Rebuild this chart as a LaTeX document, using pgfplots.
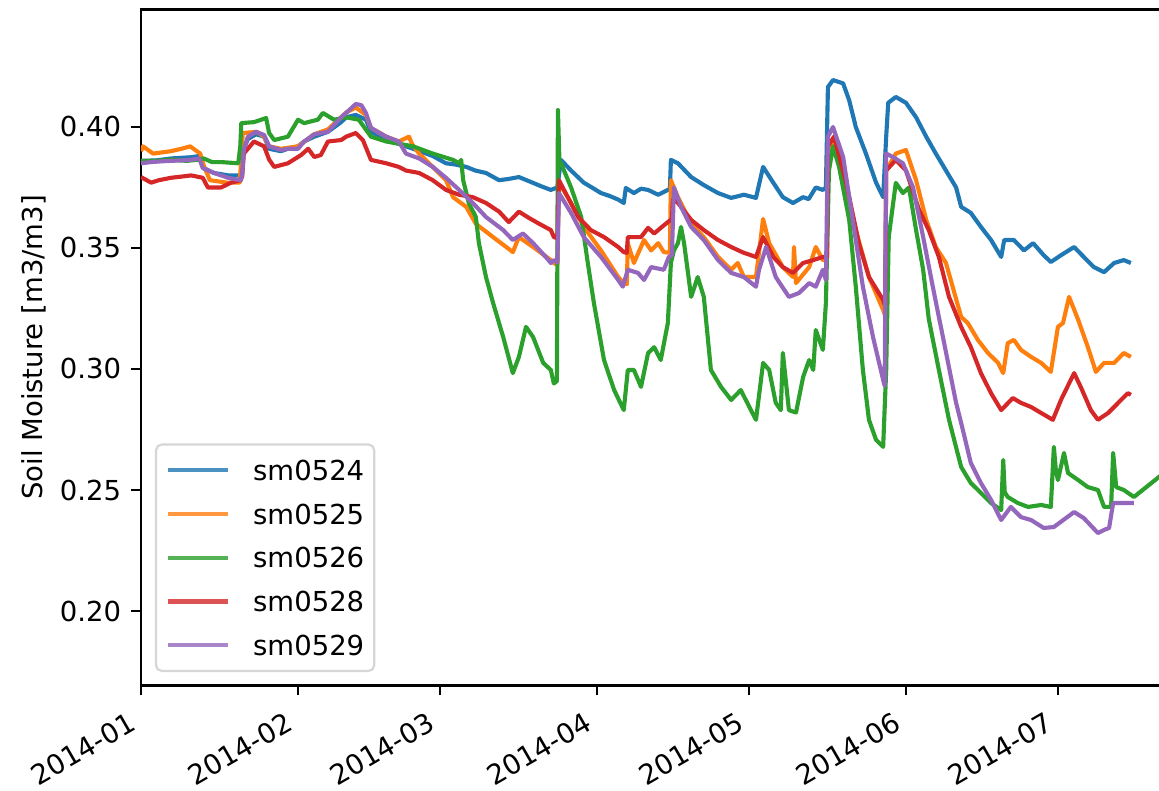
\documentclass[border=0pt]{standalone}
\usepackage{fontspec}
\setmainfont{DejaVu Sans}
\usepackage{pgfplots}
\pgfplotsset{compat=1.18}
\definecolor{c0}{HTML}{1F77B4}
\definecolor{c1}{HTML}{FF7F0E}
\definecolor{c2}{HTML}{2CA02C}
\definecolor{c3}{HTML}{D62728}
\definecolor{c4}{HTML}{9467BD}
\definecolor{lgframe}{HTML}{CCCCCC}
\begin{document}
\begin{tikzpicture}
\begin{axis}[
  at={(0,0)}, anchor=south west,
  scale only axis, width=380pt, height=245.82pt,
  xmin=0, xmax=206.28, ymin=0.16921, ymax=0.44855,
  axis line style={line width=0.8pt},
  tick align=outside, tick pos=left,
  major tick length=3.5pt,
  every tick/.style={black, line width=0.8pt},
  xtick={0,31,59,90,120,151,181},
  xticklabels={2014-01,2014-02,2014-03,2014-04,2014-05,2014-06,2014-07},
  xticklabel shift=11.6pt,
  xticklabel style={anchor=base east, rotate=30, inner sep=0pt, xshift=-1.2pt},
  ytick={0.20,0.25,0.30,0.35,0.40},
  yticklabel shift=3.5pt,
  yticklabel style={inner sep=0pt},
  /pgf/number format/fixed, /pgf/number format/fixed zerofill,
  /pgf/number format/precision=2, /pgf/number format/assume math mode=true,
  ylabel={Soil Moisture [m3/m3]},
  ylabel shift=1.5pt,
  legend cell align=left,
  legend image code/.code={\draw[#1] (0pt,0pt) -- (21.8pt,0pt);},
  legend style={at={(0.01339,0.01997)}, anchor=south west, draw=lgframe,
    fill=white, fill opacity=0.8, draw opacity=0.8, text opacity=1,
    rounded corners=2pt, inner xsep=3.6pt, inner ysep=5.7pt,
    row sep=8.6pt, column sep=8.4pt, line width=0.8pt,
    nodes={inner sep=0pt, text height=7.3pt, text depth=0pt}},
  every axis plot/.append style={line width=1.5pt, line join=round},
]
% sm0524
\addplot[c0] coordinates {
(0,0.386) (3,0.3862) (6,0.387) (9.9,0.3875) (11.5,0.388) (12.4,0.383) (14.4,0.381) (17.2,0.380) (19.7,0.380)
(20.1,0.390) (21.1,0.395) (22.7,0.397) (24.3,0.396) (25.3,0.391) (27.6,0.390) (29,0.391) (31,0.392) (32.2,0.394)
(34.2,0.396) (36.9,0.398) (39.5,0.402) (40.5,0.404) (42.4,0.405) (44.4,0.403) (45.4,0.398) (48.4,0.395)
(50.9,0.393) (53.7,0.391) (57.6,0.388) (60.2,0.385) (62,0.3845) (64.2,0.3835) (66,0.382) (68.1,0.381) (70.7,0.378)
(72.5,0.3785) (74.6,0.3793) (77.4,0.3769) (79,0.3755) (80.9,0.374) (82.2,0.375) (82.9,0.3864) (84.9,0.382) (87.4,0.377)
(89,0.375) (90.8,0.3727) (92.5,0.3715) (94.2,0.370) (95.3,0.3686) (95.7,0.3748) (97.3,0.3727) (98.7,0.3745) (100.1,0.374)
(102.1,0.372) (104.0,0.374) (104.4,0.374) (104.6,0.3864) (106.0,0.385) (108.6,0.3793) (111.1,0.376)
(113.9,0.3727) (116.5,0.3707) (119.0,0.372) (121.4,0.3707) (122.8,0.3835) (124.8,0.377) (126.7,0.371)
(128.7,0.3686) (130.7,0.371) (131.8,0.3702) (133.2,0.375) (134.6,0.374) (135.2,0.375) (135.6,0.4165) (136.6,0.4194)
(138.6,0.418) (139.8,0.411) (141.1,0.400) (143.1,0.389) (145.1,0.377) (146.5,0.371) (147.1,0.396)
(147.5,0.410) (149.0,0.4124) (151.0,0.410) (153.0,0.404) (155.0,0.396) (156.9,0.389) (158.9,0.382)
(160.9,0.375) (161.9,0.367) (163.8,0.3645) (165.8,0.3587) (167.8,0.3533) (169.8,0.3463) (170.4,0.3533)
(172.3,0.3533) (174.3,0.349) (176.1,0.352) (178.2,0.347) (179.6,0.3442) (181.6,0.347) (184.2,0.3504)
(186.1,0.3463) (188.1,0.3421) (190.1,0.340) (192.1,0.3438) (194.0,0.345) (195.4,0.3438)
};
\addlegendentry{sm0524}
% sm0525
\addplot[c1] coordinates {
(0,0.390) (0.4,0.392) (2.4,0.389) (5.9,0.390) (8,0.391) (9.7,0.392) (11.7,0.389) (12.4,0.384) (13.6,0.378)
(17.0,0.377) (19.5,0.377) (20.1,0.3975) (22.9,0.398) (24.3,0.396) (25.3,0.392) (27.6,0.391) (31,0.392)
(34.2,0.397) (36.9,0.399) (39.5,0.404) (40.5,0.406) (42.4,0.408) (44.4,0.405) (45.4,0.3996) (48.4,0.396)
(50.9,0.394) (52.9,0.396) (53.5,0.393) (54.9,0.389) (57.6,0.3835) (60.2,0.378) (61.6,0.371) (64.2,0.367)
(66.1,0.360) (69.5,0.3545) (72.1,0.3504) (73.4,0.3483) (74.6,0.3545) (77.4,0.3504) (80.9,0.345)
(81.5,0.3438) (82.2,0.343) (82.5,0.377) (84.9,0.3686) (87.4,0.3587) (90.8,0.349) (94.2,0.338)
(95.3,0.3355) (95.9,0.335) (96.1,0.352) (97.3,0.3438) (99.3,0.3533) (100.7,0.349) (102.1,0.352)
(103.2,0.3483) (104.4,0.348) (104.6,0.378) (106.0,0.371) (108.6,0.360) (111.1,0.3545) (113.9,0.3463)
(116.5,0.341) (117.8,0.3438) (119.0,0.338) (121.4,0.338) (122.8,0.362) (124.0,0.352) (126.7,0.3421)
(128.7,0.338) (128.9,0.3504) (129.3,0.3355) (131.9,0.3421) (133.2,0.3504) (134.6,0.345) (135.4,0.345)
(135.6,0.389) (136.8,0.3934) (138.6,0.382) (141.1,0.3574) (143.7,0.338) (146.5,0.3244) (146.9,0.322)
(147.1,0.382) (149.0,0.389) (151.0,0.3905) (153.0,0.378) (155.0,0.3616) (156.9,0.3504) (158.9,0.3438)
(161.9,0.3215) (163.2,0.319) (165.2,0.312) (167.2,0.3066) (169.2,0.3025) (170.2,0.2983) (171.1,0.3107)
(172.3,0.312) (173.7,0.3079) (175.7,0.305) (177.7,0.3025) (179.6,0.2988) (181.0,0.3174) (182.0,0.319)
(183.2,0.3298) (185.0,0.3203) (186.9,0.3091) (188.5,0.2988) (190.1,0.3025) (192.1,0.3025) (194.0,0.3066)
(195.4,0.305)
};
\addlegendentry{sm0525}
% sm0526
\addplot[c2] coordinates {
(0,0.386) (3,0.386) (6,0.3865) (9,0.386) (11.5,0.3865) (12.4,0.387) (14,0.3855) (15.8,0.3855) (19.2,0.385)
(19.6,0.392) (19.8,0.4016) (22.3,0.402) (24.7,0.4037) (25.3,0.3975) (26.3,0.3946) (29.0,0.396) (31.0,0.403)
(32.2,0.4016) (34.9,0.403) (35.9,0.4058) (38.1,0.403) (40.5,0.404) (43.0,0.403) (45.4,0.396) (48.4,0.394)
(53.7,0.392) (57.6,0.389) (61.6,0.3864) (62.8,0.385) (63.2,0.3864) (63.6,0.378) (64.7,0.3686) (66.1,0.3628)
(66.7,0.352) (68.1,0.338) (69.5,0.3273) (71.5,0.3132) (73.4,0.2983) (74.6,0.305) (76.0,0.3174)
(77.4,0.3132) (79.4,0.3025) (80.9,0.2996) (81.5,0.294) (82.1,0.295) (82.3,0.407) (82.6,0.386) (82.9,0.385)
(84.9,0.375) (86.9,0.3628) (88.2,0.3438) (89.4,0.3273) (91.4,0.3037) (93.4,0.2913) (95.3,0.283)
(96.1,0.2996) (97.3,0.2996) (98.7,0.2926) (100.1,0.3066) (101.3,0.309) (102.6,0.3037) (104.0,0.319)
(104.6,0.3438) (105.2,0.349) (106.0,0.352) (106.6,0.3587) (107.2,0.352) (108.6,0.3298) (109.9,0.338)
(111.1,0.3298) (112.5,0.2996) (114.5,0.2926) (116.5,0.2872) (118.4,0.2913) (120.4,0.283) (121.4,0.279)
(122.8,0.3025) (124.0,0.2996) (125.3,0.286) (126.3,0.283) (126.7,0.3066) (127.9,0.283) (129.3,0.282)
(130.7,0.2967) (131.9,0.3037) (132.7,0.2996) (133.2,0.3161) (134.6,0.3079) (135.2,0.3273) (135.8,0.382)
(136.6,0.392) (137.8,0.3835) (139.8,0.3616) (141.1,0.334) (142.5,0.2996) (143.7,0.279) (145.1,0.2707)
(146.5,0.2678) (147.1,0.2996) (147.6,0.3545) (149.0,0.3769) (150.4,0.3727) (151.6,0.375) (153.0,0.3574)
(154.4,0.341) (155.5,0.3207) (157.5,0.2996) (159.5,0.279) (161.9,0.2595) (163.8,0.2529) (165.8,0.2488)
(167.8,0.2446) (169.8,0.2417) (170.2,0.2624) (170.5,0.249) (171.1,0.2471) (173.1,0.2446) (175.1,0.243)
(177.7,0.2438) (179.6,0.243) (180.2,0.2678) (180.6,0.258) (181.0,0.2541) (182.2,0.2653) (183.0,0.257)
(185.0,0.2541) (186.9,0.2512) (188.9,0.25) (190.1,0.243) (191.5,0.243) (191.9,0.2653) (192.5,0.2512)
(194.0,0.25) (196.0,0.2471) (205.0,0.2622)
};
\addlegendentry{sm0526}
% sm0528
\addplot[c3] coordinates {
(0,0.3793) (2.0,0.377) (3.5,0.378) (5.9,0.379) (8,0.3795) (9.9,0.380) (12.2,0.379) (13.2,0.375) (15.8,0.375)
(17.8,0.377) (19.7,0.378) (20.0,0.380) (20.3,0.389) (22.3,0.394) (24.3,0.392) (25.3,0.3865) (26.3,0.3835)
(29.0,0.385) (31.6,0.3884) (33.0,0.391) (34.2,0.3876) (35.5,0.3884) (36.9,0.394) (39.5,0.3946) (40.5,0.396)
(42.4,0.3975) (43.8,0.3946) (45.4,0.3864) (48.4,0.385) (50.9,0.3835) (52.3,0.382) (54.9,0.381) (57.6,0.378)
(60.2,0.374) (62.8,0.372) (65.5,0.371) (68.1,0.3686) (70.7,0.365) (72.6,0.3607) (74.6,0.365) (76.6,0.3624)
(78.6,0.360) (80.9,0.3574) (81.5,0.3545) (82.2,0.354) (82.5,0.378) (83.5,0.374) (86.3,0.3628) (88.8,0.3574)
(91.4,0.3545) (94.2,0.3504) (95.3,0.3483) (95.9,0.348) (96.1,0.3545) (98.7,0.3545) (100.1,0.3583)
(101.3,0.356) (102.6,0.3583) (104.0,0.3607) (104.8,0.362) (105.0,0.370) (106.0,0.3686) (108.6,0.3616)
(111.1,0.3574) (113.9,0.3533) (116.5,0.3504) (119.0,0.348) (121.4,0.3463) (122.8,0.3545) (124.8,0.3463)
(126.7,0.3421) (128.7,0.3397) (130.7,0.3438) (132.7,0.345) (134.6,0.3463) (135.4,0.3463) (135.6,0.392)
(136.8,0.396) (139.2,0.377) (141.7,0.352) (143.7,0.338) (146.5,0.3285) (146.9,0.326) (147.1,0.382)
(149.0,0.3864) (151.0,0.382) (153.6,0.3657) (155.5,0.3574) (157.5,0.3463) (159.5,0.3298) (161.9,0.3174)
(163.8,0.3091) (165.8,0.2983) (167.8,0.290) (169.8,0.283) (172.1,0.288) (173.7,0.286) (175.7,0.2843)
(177.7,0.2818) (180.0,0.279) (181.6,0.2872) (184.2,0.2983) (185.5,0.2926) (187.5,0.283) (188.9,0.279)
(190.9,0.2818) (192.9,0.286) (194.8,0.290) (195.4,0.2893)
};
\addlegendentry{sm0528}
% sm0529
\addplot[c4] coordinates {
(0,0.385) (2.0,0.3855) (4.0,0.3858) (6,0.386) (8,0.3862) (10,0.3865) (11.5,0.387) (12.2,0.383) (14.4,0.381)
(17.2,0.379) (19.7,0.378) (20.0,0.381) (20.3,0.3905) (21.1,0.396) (22.7,0.398) (24.3,0.3967) (25.3,0.392)
(27.6,0.3905) (29.0,0.391) (31.0,0.391) (32.2,0.394) (34.2,0.397) (36.9,0.398) (39.5,0.404) (40.5,0.4058)
(42.4,0.4095) (43.5,0.409) (44.4,0.4058) (45.4,0.3996) (48.4,0.396) (50.9,0.394) (52.3,0.389) (54.9,0.387)
(57.6,0.3835) (60.2,0.379) (62.8,0.374) (65.5,0.3686) (68.1,0.3628) (71.5,0.3574) (73.4,0.3533)
(75.4,0.356) (77.4,0.352) (79.9,0.3463) (80.9,0.3438) (81.5,0.345) (82.2,0.344) (82.5,0.3727) (84.9,0.3645)
(87.4,0.3545) (90.8,0.3463) (94.2,0.3368) (95.1,0.334) (96.1,0.341) (98.1,0.3397) (99.3,0.3368)
(100.7,0.3421) (103.2,0.341) (104.2,0.3463) (104.8,0.347) (105.2,0.375) (106.6,0.367) (108.6,0.3587)
(111.1,0.3533) (113.9,0.345) (116.5,0.3397) (119.0,0.338) (121.4,0.334) (122.0,0.341) (123.4,0.3504)
(125.3,0.338) (127.9,0.3298) (129.9,0.3314) (131.9,0.3355) (133.2,0.334) (134.6,0.341) (135.2,0.3368)
(135.6,0.396) (136.6,0.400) (138.6,0.3876) (140.5,0.3616) (142.5,0.334) (144.5,0.3132) (146.5,0.2955)
(146.8,0.293) (147.1,0.389) (148.4,0.3876) (150.4,0.385) (152.4,0.375) (154.4,0.3545) (156.3,0.334)
(158.3,0.3132) (160.9,0.286) (161.9,0.2777) (163.8,0.2612) (165.8,0.2529) (167.8,0.2459) (169.8,0.2376)
(171.7,0.243) (173.7,0.2388) (175.7,0.2376) (178.2,0.2343) (180.2,0.2347) (184.2,0.2409) (186.1,0.2384)
(188.9,0.2322) (190.1,0.2335) (191.1,0.2343) (191.9,0.2446) (193.4,0.2446) (196.0,0.2446)
};
\addlegendentry{sm0529}
\end{axis}
\pgfresetboundingbox
\useasboundingbox (-51.27pt,-38.0pt) rectangle (370.18pt,249.27pt);
\end{tikzpicture}
\end{document}
